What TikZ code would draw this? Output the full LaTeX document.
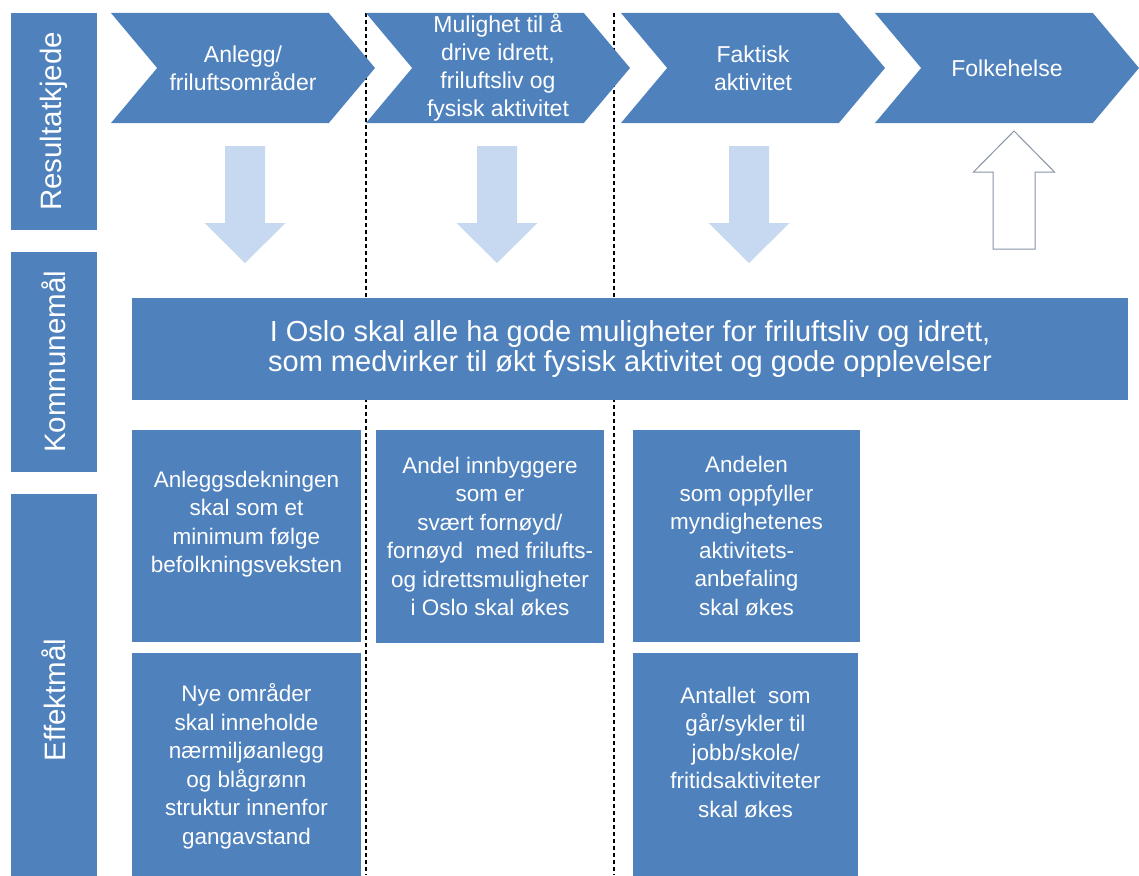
\documentclass[tikz,border=0pt]{standalone}
\usepackage{fontspec}
\setmainfont{Liberation Sans}
\usetikzlibrary{shapes.symbols}

\definecolor{kjedeblue}{RGB}{79,129,189}
\definecolor{pilblue}{RGB}{198,217,241}
\definecolor{pilgray}{RGB}{135,148,166}

\begin{document}
\begin{tikzpicture}[x=1pt, y=-1pt,
    side/.style={fill=kjedeblue, text=white, rotate=90, minimum height=86pt, inner sep=0pt, font=\fontsize{29.5}{32}\selectfont},
    ledd/.style={shape=signal, signal from=west, signal to=east, signal pointer angle=100, fill=kjedeblue, text=white, minimum width=264pt, minimum height=110pt, inner sep=0pt, align=center, font=\fontsize{23}{28}\selectfont},
    maal/.style={fill=kjedeblue, text=white, inner sep=0pt, align=center, font=\fontsize{22.5}{28.5}\selectfont},
    skille/.style={dash pattern=on 4pt off 3pt, line width=1.1pt},
    pil/.style={fill=pilblue},
    oppil/.style={draw=pilgray, fill=white, line width=1pt}]

    \useasboundingbox (0,0) rectangle (1139,875);

    % skillelinjer
    \draw[skille] (366,13) -- (366,875);
    \draw[skille] (614,13) -- (614,875);

    % venstre kolonne
    \node[side, minimum width=217pt] (res) at (54,121.5) {Resultatkjede};
    \node[side, minimum width=220pt] (kom) at (54,362) {Kommunemål};
    \node[side, minimum width=412pt] (eff) at (54,700) {Effektmål};

    % resultatkjede
    \node[ledd] (anlegg) at (243,68) {Anlegg/\\friluftsområder};
    \node[ledd] (mulighet) at (498,68) {Mulighet til å\\drive idrett,\\friluftsliv og\\fysisk aktivitet};
    \node[ledd] (faktisk) at (753,68) {Faktisk\\aktivitet};
    \node[ledd] (folkehelse) at (1007,68) {Folkehelse};

    % piler
    \fill[pil] (225,146) -- (265,146) -- (265,223) -- (285.5,223) -- (245,263) -- (204.5,223) -- (225,223) -- cycle;
    \fill[pil] (477,146) -- (517,146) -- (517,223) -- (537.5,223) -- (497,263) -- (456.5,223) -- (477,223) -- cycle;
    \fill[pil] (729,146) -- (769,146) -- (769,223) -- (789.5,223) -- (749,263) -- (708.5,223) -- (729,223) -- cycle;
    \draw[oppil] (993,249) -- (1035,249) -- (1035,172) -- (1054.5,172) -- (1014,131) -- (973.5,172) -- (993,172) -- cycle;

    % kommunemål
    \node[maal, minimum width=996pt, minimum height=102pt, font=\fontsize{29}{29.5}\selectfont] (oslo) at (630,349)
        {I Oslo skal alle ha gode muligheter for friluftsliv og idrett,\\som medvirker til økt fysisk aktivitet og gode opplevelser};

    % effektmål
    \node[maal, minimum width=229pt, minimum height=212pt] (dekning) at (246.5,536)
        {Anleggsdekningen\\skal som et\\minimum følge\\befolkningsveksten\\\mbox{}};
    \node[maal, minimum width=229pt, minimum height=227pt] (nye) at (246.5,766.5)
        {Nye områder\\skal inneholde\\nærmiljøanlegg\\og blågrønn\\struktur innenfor\\gangavstand};
    \node[maal, minimum width=228pt, minimum height=213pt] (andel) at (490,536.5)
        {Andel innbyggere\\som er\\svært fornøyd/\\fornøyd\ \ med frilufts-\\og idrettsmuligheter\\i Oslo skal økes};
    \node[maal, minimum width=227pt, minimum height=212pt] (andelen) at (746.5,536)
        {Andelen\\som oppfyller\\myndighetenes\\aktivitets-\\anbefaling\\skal økes};
    \node[maal, minimum width=225pt, minimum height=227pt] (antallet) at (745.5,766.5)
        {Antallet\ \ som\\går/sykler til\\jobb/skole/\\fritidsaktiviteter\\skal økes\\\mbox{}};
\end{tikzpicture}
\end{document}
